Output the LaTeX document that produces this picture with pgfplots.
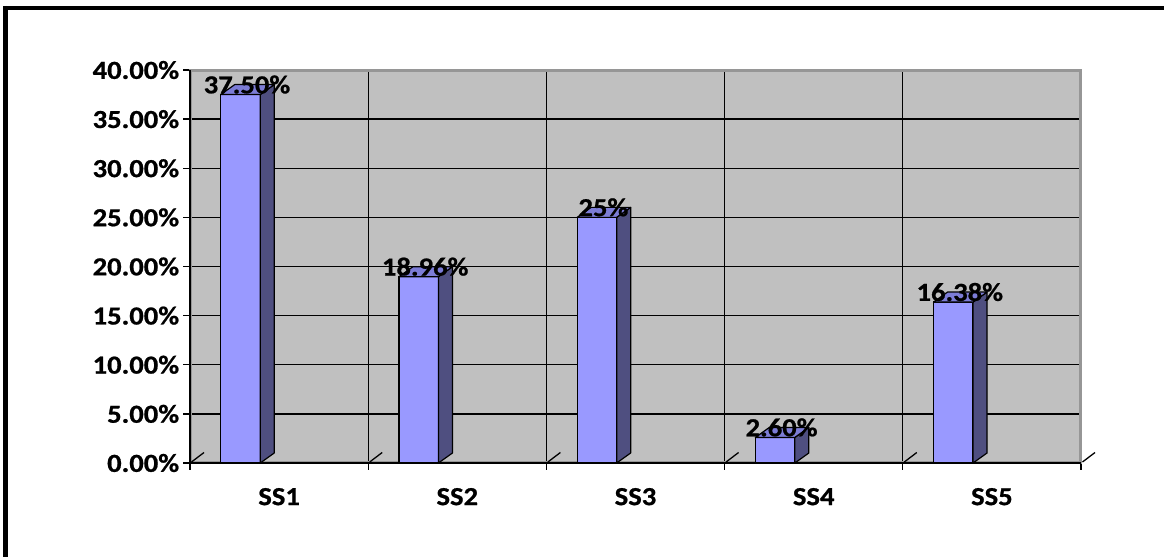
\documentclass[border=0pt]{standalone}
\usepackage{fontspec}
\setmainfont{Carlito}[FakeStretch=1.10, BoldFeatures={FakeBold=0.8}]
\usepackage{pgfplots}
\usepackage{pgfplotstable}
\pgfplotsset{compat=1.18}
\definecolor{plotbg}{HTML}{C0C0C0}
\definecolor{barfront}{HTML}{9999FF}
\definecolor{barside}{HTML}{4F4F80}
\definecolor{bartop}{HTML}{7C7CD6}
\definecolor{wallgray}{HTML}{969696}
\pgfdeclareplotmark{nothing}{}
\newcommand\pxc[2]{({#1*0.5pt},{(557-#2)*0.5pt})}
\newcommand\lblfont{\fontsize{13}{15}\selectfont\bfseries}
\pgfplotstableread{
x val label
0.2834 37.50 37.50
1.2834 18.96 18.96
2.2834 25.00 25
3.2834 2.60 2.60
4.2834 16.38 16.38
}\bars
\begin{document}
\begin{tikzpicture}
\path[use as bounding box, fill=white] (0,0) rectangle (582pt,278.5pt);
% frame
\draw[line width=2pt] \pxc{3}{8} -- \pxc{1164}{8};
\draw[line width=1.75pt] \pxc{4.75}{6} -- \pxc{4.75}{557};
\draw[line width=0.65pt] \pxc{7.5}{8} -- \pxc{7.5}{557};
\begin{axis}[
  at={(95pt,47pt)}, anchor=south west,
  scale only axis, width=445.5pt, height=196.5pt,
  xmin=0, xmax=5, ymin=0, ymax=40,
  axis background/.style={fill=plotbg},
  axis line style={draw=wallgray, line width=1.5pt},
  /pgf/number format/assume math mode=true,
  tick label style={font=\lblfont},
  ytick={0,5,...,40},
  yticklabel={\pgfmathprintnumber[fixed,fixed zerofill,precision=2]{\tick}\%},
  yticklabel style={xshift=1.6pt},
  xtick={0,1,2,3,4,5},
  xticklabels={},
  extra x ticks={0.5,1.5,2.5,3.5,4.5},
  extra x tick labels={SS1,SS2,SS3,SS4,SS5},
  extra x tick style={major tick length=0pt, grid=none,
     xticklabel style={yshift=-9pt}},
  tick pos=left,
  tick align=outside,
  major tick length=3.5pt,
  tick style={draw=black, line width=0.65pt},
  ymajorgrids, xmajorgrids,
  major grid style={draw=black, line width=0.65pt},
  clip=false,
]
\addplot[only marks, mark=nothing, scatter,
  visualization depends on={rawy \as \barval},
  scatter/@pre marker code/.code={%
    \pgfmathsetlengthmacro\bh{\barval*4.9125pt}%
    \begin{scope}
    \filldraw[fill=barfront, draw=black, line width=0.6pt] (-9.875pt,-\bh) rectangle (9.875pt,0pt);
    \filldraw[fill=barside, draw=black, line width=0.6pt, line join=round] (9.875pt,-\bh) -- ++(7pt,5pt) -- (16.875pt,5pt) -- (9.875pt,0pt) -- cycle;
    \filldraw[fill=bartop, draw=black, line width=0.6pt, line join=round] (-9.875pt,0pt) -- (-2.875pt,5pt) -- (16.875pt,5pt) -- (9.875pt,0pt) -- cycle;
    \end{scope}%
  },
  scatter/@post marker code/.code={},
] table[x=x, y=val] {\bars};
\addplot[draw=none, mark=none, point meta=explicit symbolic,
  nodes near coords={\pgfplotspointmeta\%},
  every node near coord/.append style={anchor=base, xshift=3.25pt, yshift=0.6pt, inner sep=0pt, font=\lblfont, text=black},
] table[x=x, y=val, meta=label] {\bars};
\draw[black, line width=0.65pt] (axis cs:0,40) -- (axis cs:0,0) -- (axis cs:5,0);
\end{axis}
\foreach \i in {0,...,5} {
  \draw[black, line width=0.65pt] ({(190+178.2*\i+1.5)*0.5pt},{(557-462)*0.5pt}) -- ++(6.25pt,4.75pt);
}
\end{tikzpicture}
\end{document}
